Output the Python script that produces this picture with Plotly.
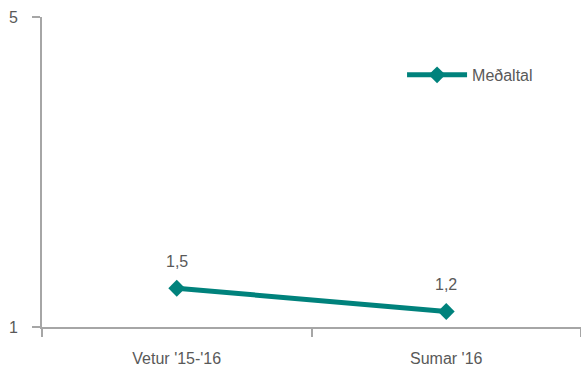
import plotly.graph_objects as go

# Average score per season
categories = ["Vetur '15-'16", "Sumar '16"]
values = [1.5, 1.2]
series_name = "Meðaltal"

TEAL = "#00827C"
GREY_AXIS = "#A6A6A6"
TEXT = "#595959"
FONT = "Liberation Sans, Arial, sans-serif"
FS = 16

def fmt(v):
    return f"{v:.1f}".replace(".", ",")

fig = go.Figure()
fig.add_trace(go.Scatter(
    x=categories,
    y=values,
    mode="lines+markers",
    name=series_name,
    line=dict(color=TEAL, width=5),
    marker=dict(symbol="diamond", size=13, color=TEAL),
    cliponaxis=False,
))

# Value labels above each point
for c, v in zip(categories, values):
    fig.add_annotation(
        x=c, y=v, text=fmt(v), showarrow=False,
        yshift=27, font=dict(family=FONT, size=FS, color=TEXT),
    )

fig.update_layout(
    width=581, height=371,
    margin=dict(l=42, r=0, t=17, b=44),
    paper_bgcolor="white",
    plot_bgcolor="white",
    font=dict(family=FONT, size=FS, color=TEXT),
    showlegend=True,
    legend=dict(
        x=0.668, y=0.813, xanchor="left", yanchor="middle",
        bgcolor="rgba(0,0,0,0)",
        font=dict(family=FONT, size=FS, color=TEXT),
        itemwidth=60,
    ),
)

fig.update_xaxes(
    range=[-0.5, 1.5],
    showgrid=False, zeroline=False,
    showline=True, linecolor=GREY_AXIS, linewidth=2,
    ticks="outside", tickson="boundaries", ticklen=8, tickcolor=GREY_AXIS, tickwidth=1.5,
    ticklabelstandoff=16,
    tickfont=dict(family=FONT, size=FS, color=TEXT),
    fixedrange=True,
)
fig.update_yaxes(
    range=[1, 5],
    tickvals=[1, 5], ticktext=["1", "5"],
    showgrid=False, zeroline=False,
    showline=True, linecolor=GREY_AXIS, linewidth=2,
    ticks="outside", ticklen=8, tickcolor=GREY_AXIS, tickwidth=1.5,
    ticklabelstandoff=11,
    tickfont=dict(family=FONT, size=FS, color=TEXT),
    fixedrange=True,
)

fig.write_html("out.html")
